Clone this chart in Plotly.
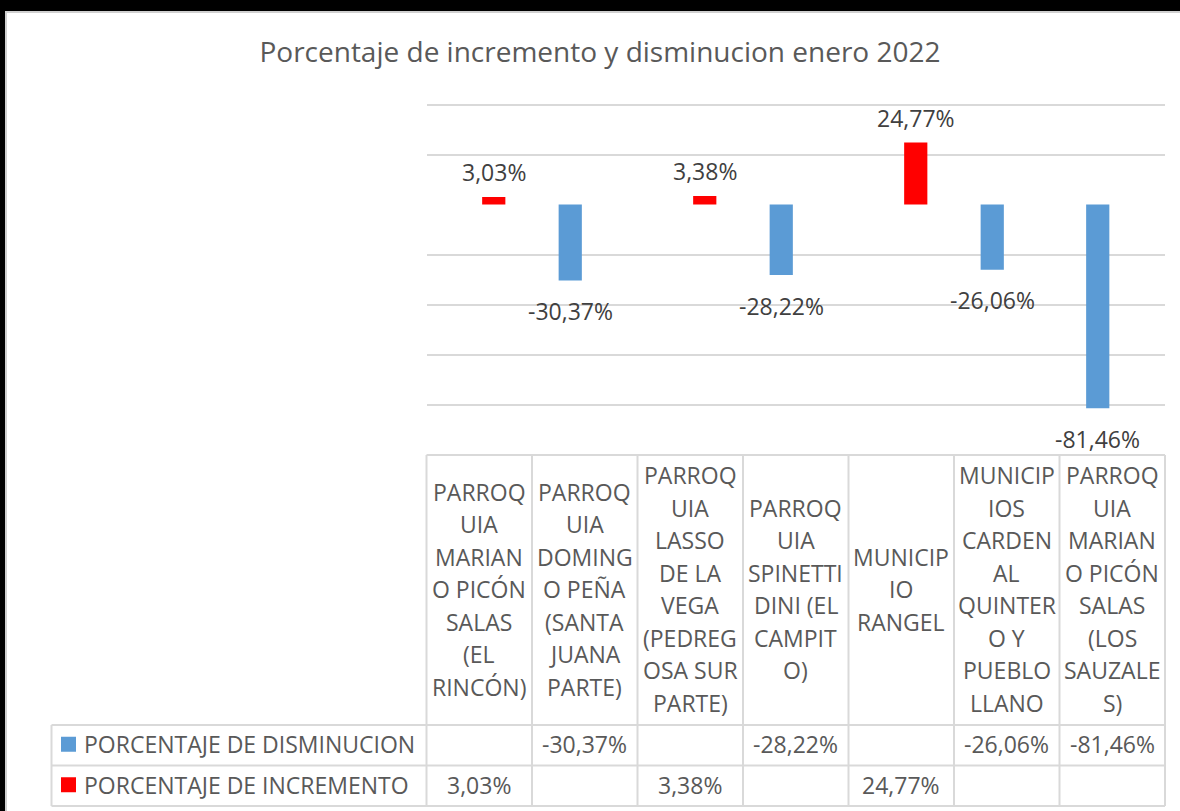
import plotly.graph_objects as go

# ---------------- data ----------------
title_text = "Porcentaje de incremento y disminucion enero 2022"
categories = [
    "PARROQUIA MARIANO PICÓN SALAS (EL RINCÓN)",
    "PARROQUIA DOMINGO PEÑA (SANTA JUANA PARTE)",
    "PARROQUIA LASSO DE LA VEGA (PEDREGOSA SUR PARTE)",
    "PARROQUIA SPINETTI DINI (EL CAMPITO)",
    "MUNICIPIO RANGEL",
    "MUNICIPIOS CARDENAL QUINTERO Y PUEBLO LLANO",
    "PARROQUIA MARIANO PICÓN SALAS (LOS SAUZALES)",
]
# wrapped category labels as shown in the data table header
category_lines = [
    ["PARROQ", "UIA", "MARIAN", "O PICÓN", "SALAS", "(EL", "RINCÓN)"],
    ["PARROQ", "UIA", "DOMING", "O PEÑA", "(SANTA", "JUANA", "PARTE)"],
    ["PARROQ", "UIA", "LASSO", "DE LA", "VEGA", "(PEDREG", "OSA SUR", "PARTE)"],
    ["PARROQ", "UIA", "SPINETTI", "DINI (EL", "CAMPIT", "O)"],
    ["MUNICIP", "IO", "RANGEL"],
    ["MUNICIP", "IOS", "CARDEN", "AL", "QUINTER", "O Y", "PUEBLO", "LLANO"],
    ["PARROQ", "UIA", "MARIAN", "O PICÓN", "SALAS", "(LOS", "SAUZALE", "S)"],
]
series_names = ["PORCENTAJE DE DISMINUCION", "PORCENTAJE DE INCREMENTO"]
disminucion = [None, -30.37, None, -28.22, None, -26.06, -81.46]
incremento = [3.03, None, 3.38, None, 24.77, None, None]
series_values = [disminucion, incremento]
series_colors = ["#5B9BD5", "#FF0000"]
grid_ticks = [40, 20, -20, -40, -60, -80]

# ---------------- geometry (px) ----------------
W, H = 1180, 811
FONT = "Open Sans"
TXT = "#595959"
LBL = "#404040"
GRID = "#D9D9D9"
plot_x0, plot_x1 = 426.5, 1165.0
y_min, y_max = -100, 44
plot_y_bottom = 454.5
px_per_unit = 2.5
plot_y_top = plot_y_bottom - (y_max - y_min) * px_per_unit
legend_x0 = 51.5
row_tops = [455.0, 725.0, 765.5, 806.0]  # header top, row1 top, row2 top, bottom
header_line_gap = 32.5
n = len(categories)
col_w = (plot_x1 - plot_x0) / n


def px(x):
    return x / W


def py(y):
    return 1 - y / H


def fmt(v):
    return ("%.2f%%" % v).replace(".", ",")


fig = go.Figure()
for name, vals, col in zip(series_names, series_values, series_colors):
    fig.add_trace(go.Bar(x=categories, y=vals, name=name, marker_color=col,
                         marker_line_width=0, hoverinfo="skip"))

shapes = []
annotations = []

# data labels on the bars
slot = col_w * (1 - 0.45) / 2
for s, (vals, col) in enumerate(zip(series_values, series_colors)):
    xshift = (s - 0.5) * slot
    for c, v in zip(categories, vals):
        if v is None:
            continue
        annotations.append(dict(
            x=c, y=v, xref="x", yref="y", text=fmt(v), showarrow=False,
            xshift=xshift, yshift=25 if v > 0 else -30.5,
            xanchor="center", yanchor="middle",
            font=dict(family=FONT, size=23, color=LBL)))

# data table: lines
line = dict(color=GRID, width=2)
shapes.append(dict(type="line", xref="paper", yref="paper", x0=px(plot_x0), x1=px(plot_x1),
                   y0=py(row_tops[0]), y1=py(row_tops[0]), line=line))
for yt in row_tops[1:]:
    shapes.append(dict(type="line", xref="paper", yref="paper", x0=px(legend_x0), x1=px(plot_x1),
                       y0=py(yt), y1=py(yt), line=line))
shapes.append(dict(type="line", xref="paper", yref="paper", x0=px(legend_x0), x1=px(legend_x0),
                   y0=py(row_tops[1]), y1=py(row_tops[3]), line=line))
for i in range(n + 1):
    xx = plot_x0 + i * col_w
    shapes.append(dict(type="line", xref="paper", yref="paper", x0=px(xx), x1=px(xx),
                       y0=py(row_tops[0]), y1=py(row_tops[3]), line=line))

# header text (category names)
header_mid = (row_tops[0] + row_tops[1]) / 2 - 1
for c, lines in zip(categories, category_lines):
    k = len(lines)
    for j, t in enumerate(lines):
        yy = header_mid + (j - (k - 1) / 2) * header_line_gap
        annotations.append(dict(x=c, xref="x", y=py(yy), yref="paper", text=t, showarrow=False,
                                xanchor="center", yanchor="middle",
                                font=dict(family=FONT, size=23, color=TXT)))

# value rows with legend keys
for r, (name, vals, col) in enumerate(zip(series_names, series_values, series_colors)):
    top, bot = row_tops[r + 1], row_tops[r + 2]
    mid = (top + bot) / 2 - 1
    shapes.append(dict(type="rect", xref="paper", yref="paper", x0=px(61), x1=px(76),
                       y0=py(mid - 7.5), y1=py(mid + 7.5), fillcolor=col, line=dict(width=0)))
    annotations.append(dict(x=px(82), xref="paper", y=py(mid), yref="paper", text=name,
                            showarrow=False, xanchor="left", yanchor="middle",
                            font=dict(family=FONT, size=23, color=TXT)))
    for c, v in zip(categories, vals):
        if v is None:
            continue
        annotations.append(dict(x=c, xref="x", y=py(mid), yref="paper", text=fmt(v),
                                showarrow=False, xanchor="center", yanchor="middle",
                                font=dict(family=FONT, size=23, color=TXT)))

# page frame (black band top/left as in the screenshot)
shapes.append(dict(type="rect", xref="paper", yref="paper", x0=0, x1=1, y0=py(11), y1=1,
                   fillcolor="#000000", line=dict(width=0), layer="above"))
shapes.append(dict(type="rect", xref="paper", yref="paper", x0=0, x1=px(5), y0=0, y1=1,
                   fillcolor="#000000", line=dict(width=0), layer="above"))
shapes.append(dict(type="line", xref="paper", yref="paper", x0=px(5), x1=1, y0=py(12), y1=py(12),
                   line=dict(color="#D0D0D0", width=2)))
shapes.append(dict(type="line", xref="paper", yref="paper", x0=px(6), x1=px(6), y0=0, y1=py(11),
                   line=dict(color="#D0D0D0", width=2)))

fig.update_layout(
    width=W, height=H,
    margin=dict(l=0, r=0, t=0, b=0),
    paper_bgcolor="white", plot_bgcolor="white",
    barmode="group", bargap=0.45, bargroupgap=0.2,
    showlegend=False,
    font=dict(family=FONT, color=TXT),
    title=dict(text=title_text, x=px(600), xanchor="center", y=py(52), yanchor="middle",
               font=dict(family=FONT, size=28, color=TXT)),
    xaxis=dict(domain=[px(plot_x0), px(plot_x1)], showticklabels=False, showgrid=False,
               zeroline=False, showline=False, ticks="", fixedrange=True),
    yaxis=dict(domain=[py(plot_y_bottom), py(plot_y_top)], range=[y_min, y_max],
               tickvals=grid_ticks, showticklabels=False, showgrid=True, gridcolor=GRID,
               gridwidth=2, zeroline=False, showline=False, ticks="", fixedrange=True),
    shapes=shapes,
    annotations=annotations,
)

fig.write_html(
    "out.html",
    config={"displayModeBar": False},
    post_script="document.body.style.margin='0';document.body.style.overflow='hidden';",
)
